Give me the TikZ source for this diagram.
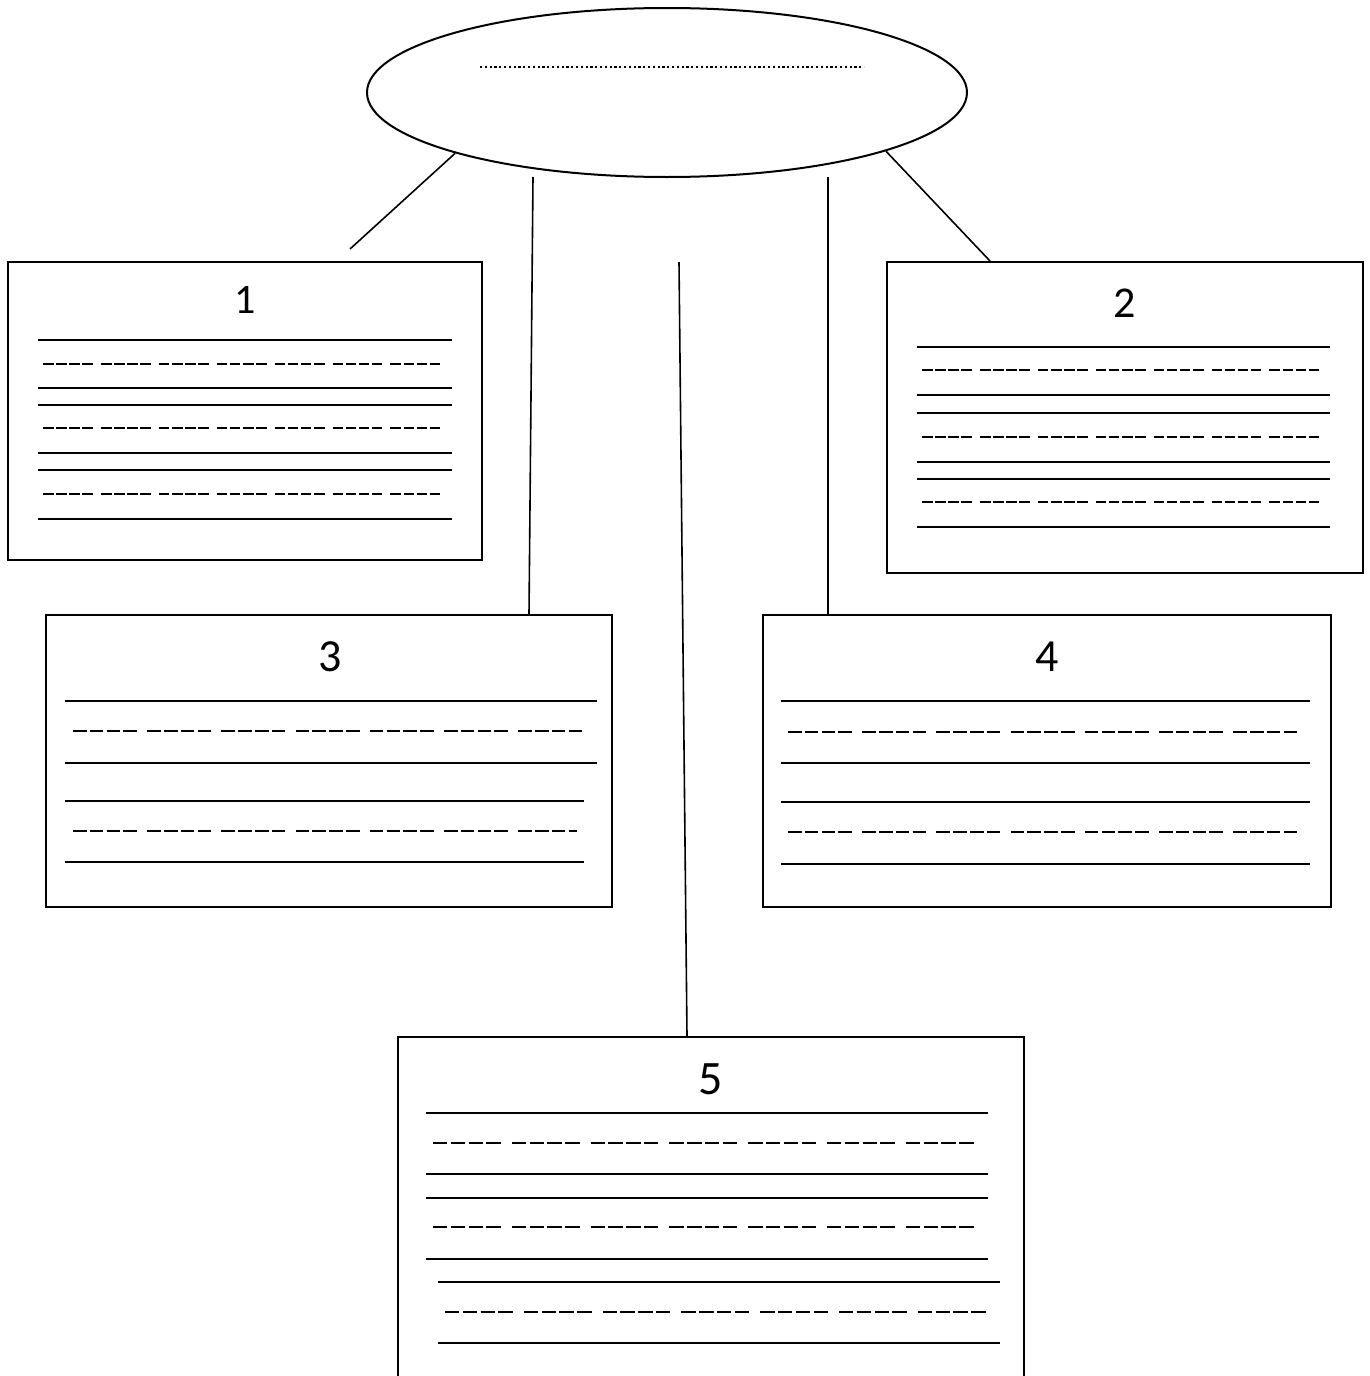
\documentclass[tikz,border=0pt]{standalone}
\usepackage{fontspec}
\setmainfont{Carlito}
\usetikzlibrary{shapes.geometric}
\begin{document}
\begin{tikzpicture}[x=0.5pt,y=-0.5pt,
  boxnode/.style={draw,line width=1pt,rectangle,inner sep=0pt},
  titlenum/.style={inner sep=0pt,font=\fontsize{#1}{#1}\selectfont},
  titlenum/.default=21,
  rule/.style={line width=1.15pt},
  conn/.style={line width=0.8pt},
  dashS/.style={line width=1pt,dash pattern=on 5.3pt off 1.25pt on 5.3pt off 1.25pt on 5.3pt off 1.25pt on 5.3pt off 4pt},
  dashM/.style={line width=1.05pt,dash pattern=on 6.8pt off 1.6pt on 6.8pt off 1.6pt on 6.8pt off 1.6pt on 6.8pt off 5.1pt},
  dashL/.style={line width=1.1pt,dash pattern=on 7.2pt off 1.7pt on 7.2pt off 1.7pt on 7.2pt off 1.7pt on 7.2pt off 5.5pt}]
\useasboundingbox (0,0) rectangle (1370,1376);
\clip (0,0) rectangle (1370,1376);

% central ellipse
\node (top) [ellipse,draw,line width=1pt,minimum width=300pt,minimum height=84.5pt,inner sep=0pt] at (667,92.5) {};
\draw[line width=1.2pt,dash pattern=on 1.1pt off 1.3pt] (480,67) -- (864,67);

% boxes
\node (b1) [boxnode,minimum width=237pt,minimum height=149pt] at (245,411) {};
\node (b2) [boxnode,minimum width=238pt,minimum height=155.5pt] at (1124.5,417.5) {};
\node (b3) [boxnode,minimum width=283pt,minimum height=146pt] at (329,761) {};
\node (b4) [boxnode,minimum width=284pt,minimum height=146pt] at (1047,761) {};
\node (b5) [boxnode,minimum width=313pt,minimum height=200pt] at (710.5,1237) {};

% titles
\node (t1) [titlenum=21] at (245,300) {1};
\node (t2) [titlenum=22] at (1125,303) {2};
\node (t3) [titlenum=23] at (330,657) {3};
\node (t4) [titlenum=23] at (1047,657) {4};
\node (t5) [titlenum=24] at (711,1079) {5};

% free ends of connectors
\coordinate (c1) at (350,249);
\coordinate (c3) at (533,177);
\coordinate (c5) at (679,262);
\coordinate (c4) at (828,177);

% connectors
\draw[conn] (top.196) -- (c1);
\draw[conn] (c3) -- (529,0 |- b3.north);
\draw[conn] (c5) -- (687,0 |- b5.north);
\draw[conn] (c4) -- (c4 |- b4.north);
\draw[conn] (top.345.3) -- (990,0 |- b2.north);

% box 1 lines
\foreach \y in {340,388,405,453,470,519} \draw[rule] (38,\y) -- (452,\y);
\foreach \y in {364,428,494} \draw[dashS] (43,\y) -- (442,\y);

% box 2 lines
\foreach \y in {347,395,413,462,479,527} \draw[rule] (917,\y) -- (1330,\y);
\foreach \y in {370,437,502} \draw[dashS] (922,\y) -- (1320,\y);

% box 3 lines
\foreach \y in {701,763} \draw[rule] (65,\y) -- (597,\y);
\foreach \y in {801,862} \draw[rule] (65,\y) -- (584,\y);
\draw[dashM] (73,731) -- (588,731);
\draw[dashM] (73,831) -- (577,831);

% box 4 lines
\foreach \y in {701,763,802,864} \draw[rule] (781,\y) -- (1310,\y);
\foreach \y in {732,832} \draw[dashM] (788,\y) -- (1297,\y);

% box 5 lines
\foreach \y in {1113,1174,1198,1259} \draw[rule] (426,\y) -- (988,\y);
\foreach \y in {1282,1343} \draw[rule] (438,\y) -- (1000,\y);
\foreach \y in {1143,1227} \draw[dashL] (433,\y) -- (976,\y);
\draw[dashL] (445,1312) -- (988,1312);
\end{tikzpicture}
\end{document}
